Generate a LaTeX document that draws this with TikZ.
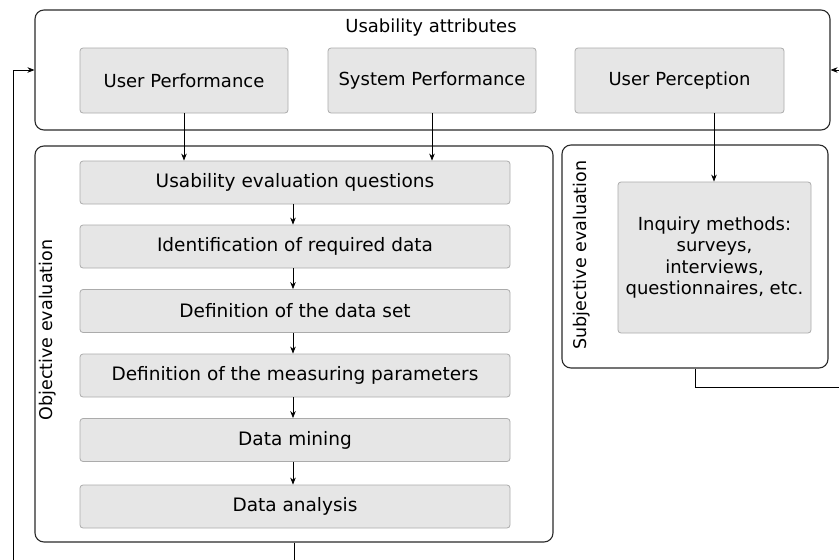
\documentclass[tikz,border=0pt]{standalone}
\usepackage{fontspec}
\setmainfont{DejaVu Sans}
\usetikzlibrary{arrows.meta}
\definecolor{boxfill}{HTML}{E6E6E6}
\definecolor{boxline}{HTML}{ABABAB}
\definecolor{frameline}{HTML}{2A2A2A}
\begin{document}
\begin{tikzpicture}[x=1pt,y=-1pt,
  txt/.style={font=\fontsize{18}{21.5}\selectfont},
  container/.style={draw=frameline,line width=1.1pt,rounded corners=9pt,inner sep=0pt},
  item/.style={txt,draw=boxline,fill=boxfill,line width=0.8pt,rounded corners=3pt,inner sep=0pt,align=center},
  conn/.style={draw=black,line width=0.8pt,-{Stealth[length=7pt,width=5.5pt]}}]
\useasboundingbox (0,0) rectangle (839,560);
% containers
\node[container,minimum width=795pt,minimum height=120pt] (top) at (432.5,70) {};
\node[container,minimum width=518pt,minimum height=396pt] (obj) at (294,344) {};
\node[container,minimum width=266pt,minimum height=223pt] (subj) at (695,256.5) {};
% labels
\node[txt] (ttl) at (431,28) {Usability attributes};
\node[txt,font=\fontsize{17.5}{21}\selectfont,rotate=90] (objl) at (48,330) {Objective evaluation};
\node[txt,font=\fontsize{17.5}{21}\selectfont,rotate=90] (subjl) at (582,255) {Subjective evaluation};
% attribute boxes
\node[item,minimum width=208pt,minimum height=65pt] (up) at (184,80.5) {User Performance};
\node[item,minimum width=208pt,minimum height=65pt] (sp) at (432,80.5) {System Performance};
\node[item,minimum width=209pt,minimum height=65pt] (upc) at (679.5,80.5) {User Perception};
% objective steps
\node[item,minimum width=430pt,minimum height=43pt,font=\fontsize{18.5}{21.5}\selectfont] (q1) at (295,182.5) {Usability evaluation questions};
\node[item,minimum width=430pt,minimum height=43pt,font=\fontsize{18.5}{21.5}\selectfont] (q2) at (295,246.5) {Identification of required data};
\node[item,minimum width=430pt,minimum height=43pt,font=\fontsize{18.5}{21.5}\selectfont] (q3) at (295,311) {Definition of the data set};
\node[item,minimum width=430pt,minimum height=43pt,font=\fontsize{18.5}{21.5}\selectfont] (q4) at (295,375.5) {Definition of the measuring parameters};
\node[item,minimum width=430pt,minimum height=43pt,font=\fontsize{18.5}{21.5}\selectfont] (q5) at (295,440) {Data mining};
\node[item,minimum width=430pt,minimum height=43pt,font=\fontsize{18.5}{21.5}\selectfont] (q6) at (295,506.5) {Data analysis};
% subjective
\node[item,minimum width=193pt,minimum height=151pt] (inq) at (714.5,257.5) {Inquiry methods:\\surveys,\\interviews,\\questionnaires, etc.};
% connectors
\draw[conn] (up.south) -- (up.south |- q1.north);
\draw[conn] (sp.south) -- (sp.south |- q1.north);
\draw[conn] ([xshift=34.5pt]upc.south) -- ([xshift=34.5pt]upc.south |- inq.north);
\draw[conn] (q1.south -| 293,0) -- (q2.north -| 293,0);
\draw[conn] (q2.south -| 293,0) -- (q3.north -| 293,0);
\draw[conn] (q3.south -| 293,0) -- (q4.north -| 293,0);
\draw[conn] (q4.south -| 293,0) -- (q5.north -| 293,0);
\draw[conn] (q5.south -| 293,0) -- (q6.north -| 293,0);
% feedback loops
\coordinate (bl1) at (294,575);
\coordinate (bl2) at (13,575);
\draw[conn] (obj.south) -- (bl1) -- (bl2) |- (top.west);
\coordinate (rc1) at (695,387);
\coordinate (rc2) at (850,387);
\draw[conn] (subj.south) -- (rc1) -- (rc2) |- (top.east);
\end{tikzpicture}
\end{document}
